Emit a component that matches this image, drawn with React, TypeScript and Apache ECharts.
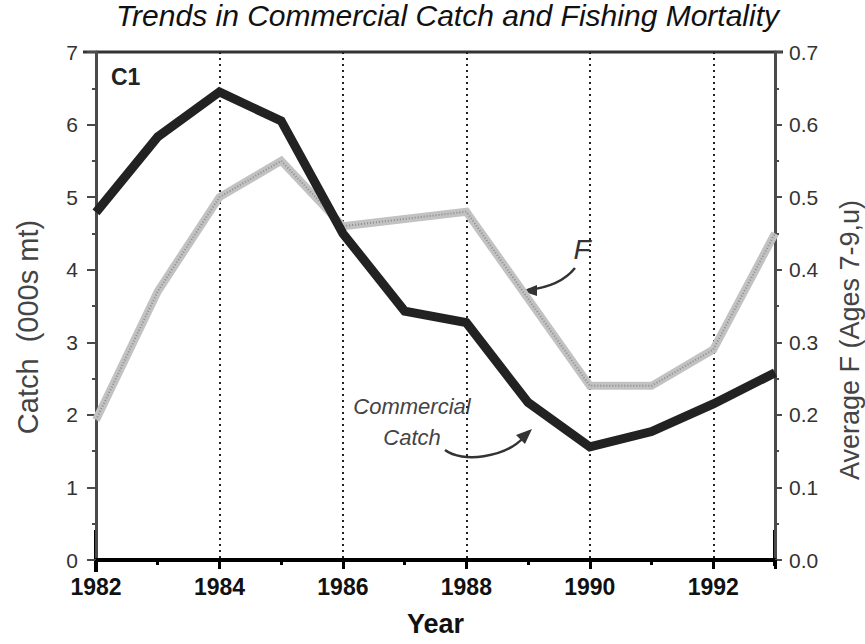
import React, { useEffect, useRef } from "react";
import * as echarts from "echarts";

const years = [1982, 1983, 1984, 1985, 1986, 1987, 1988, 1989, 1990, 1991, 1992, 1993];
const catchValues = [4.79, 5.83, 6.45, 6.05, 4.5, 3.43, 3.27, 2.17, 1.56, 1.77, 2.15, 2.58];
const fValues = [0.193, 0.37, 0.5, 0.55, 0.46, 0.47, 0.48, 0.36, 0.24, 0.24, 0.29, 0.45];

const FONT = "'Liberation Sans', Arial, Helvetica, sans-serif";

export default function App() {
  const ref = useRef<HTMLDivElement>(null);
  useEffect(() => {
    if (!ref.current) return;
    const chart = echarts.init(ref.current, null, { renderer: "svg" });
    chart.setOption({
      animation: false,
      backgroundColor: "#ffffff",
      textStyle: { fontFamily: FONT },
      grid: { left: 96, right: 90, top: 52, bottom: 84, containLabel: false },
      xAxis: {
        type: "value",
        min: 1982,
        max: 1993,
        interval: 2,
        name: "Year",
        nameLocation: "middle",
        nameGap: 50,
        nameTextStyle: { fontFamily: FONT, fontSize: 27, fontWeight: "bold", color: "#111" },
        axisLine: { show: true, lineStyle: { color: "#000", width: 4 } },
        axisTick: { show: true, length: 9, lineStyle: { color: "#000", width: 3 } },
        minorTick: { show: true, splitNumber: 2, length: 5, lineStyle: { color: "#000", width: 3 } },
        axisLabel: {
          fontFamily: FONT,
          fontSize: 23,
          fontWeight: "bold",
          color: "#111",
          margin: 15,
          showMaxLabel: false,
          formatter: (v: number) => String(v),
        },
        splitLine: { show: true, lineStyle: { color: "#222", width: 2, type: [2, 4] } },
      },
      yAxis: [
        {
          type: "value",
          min: 0,
          max: 7,
          interval: 1,
          position: "left",
          axisLine: { show: true, lineStyle: { color: "#4a4a4a", width: 3 } },
          axisTick: { show: true, length: 9, lineStyle: { color: "#4a4a4a", width: 2 } },
          minorTick: { show: true, splitNumber: 2, length: 4, lineStyle: { color: "#4a4a4a", width: 2 } },
          axisLabel: { fontFamily: FONT, fontSize: 21, color: "#333", margin: 18 },
          splitLine: { show: false },
        },
        {
          type: "value",
          min: 0,
          max: 0.7,
          interval: 0.1,
          position: "right",
          axisLine: { show: true, lineStyle: { color: "#4a4a4a", width: 3 } },
          axisTick: { show: true, length: 7, lineStyle: { color: "#4a4a4a", width: 2 } },
          minorTick: { show: true, splitNumber: 2, length: 4, lineStyle: { color: "#4a4a4a", width: 2 } },
          axisLabel: {
            fontFamily: FONT,
            fontSize: 21,
            color: "#333",
            margin: 14,
            formatter: (v: number) => v.toFixed(1),
          },
          splitLine: { show: false },
        },
      ],
      series: [
        {
          type: "line",
          name: "F",
          yAxisIndex: 1,
          data: years.map((y, i) => [y, fValues[i]]),
          showSymbol: false,
          lineStyle: { color: "#c2c2c2", width: 8, join: "miter" },
          z: 2,
        },
        {
          type: "line",
          name: "F-stipple",
          yAxisIndex: 1,
          data: years.map((y, i) => [y, fValues[i]]),
          showSymbol: false,
          lineStyle: { color: "#8c8c8c", width: 2, type: [1, 2] },
          z: 3,
        },
        {
          type: "line",
          name: "Commercial Catch",
          yAxisIndex: 0,
          data: years.map((y, i) => [y, catchValues[i]]),
          showSymbol: false,
          lineStyle: { color: "#222", width: 9, join: "miter" },
          z: 4,
        },
      ],
      graphic: [
        {
          type: "text",
          left: 116,
          top: 0,
          style: {
            text: "Trends in Commercial Catch and Fishing Mortality",
            fontFamily: FONT,
            fontSize: 30,
            fontStyle: "italic",
            fill: "#111",
          },
        },
        {
          type: "text",
          x: 28,
          y: 327,
          rotation: Math.PI / 2,
          style: {
            text: "Catch  (000s mt)",
            fontFamily: FONT,
            fontSize: 29,
            fill: "#444",
            align: "center",
            verticalAlign: "middle",
          },
        },
        {
          type: "text",
          x: 850,
          y: 340,
          rotation: Math.PI / 2,
          style: {
            text: "Average F (Ages 7-9,u)",
            fontFamily: FONT,
            fontSize: 27,
            fill: "#444",
            align: "center",
            verticalAlign: "middle",
          },
        },
        {
          type: "line",
          shape: { x1: 83, y1: 52, x2: 783, y2: 52 },
          style: { stroke: "#333", lineWidth: 3 },
        },
        {
          type: "line",
          shape: { x1: 96, y1: 530, x2: 96, y2: 572 },
          style: { stroke: "#000", lineWidth: 4 },
        },
        {
          type: "line",
          shape: { x1: 775, y1: 530, x2: 775, y2: 566 },
          style: { stroke: "#000", lineWidth: 4 },
        },
        {
          type: "text",
          left: 111,
          top: 65,
          style: { text: "C1", fontFamily: FONT, fontSize: 23, fontWeight: "bold", fill: "#222" },
        },
        {
          type: "text",
          x: 412,
          y: 406,
          style: {
            text: "Commercial",
            fontFamily: FONT,
            fontSize: 22,
            fontStyle: "italic",
            fill: "#444",
            align: "center",
            verticalAlign: "middle",
          },
        },
        {
          type: "text",
          x: 412,
          y: 437,
          style: {
            text: "Catch",
            fontFamily: FONT,
            fontSize: 22,
            fontStyle: "italic",
            fill: "#444",
            align: "center",
            verticalAlign: "middle",
          },
        },
        {
          type: "bezierCurve",
          shape: { x1: 445, y1: 450, x2: 524, y2: 437, cpx1: 462, cpy1: 463, cpx2: 505, cpy2: 458 },
          style: { stroke: "#333", lineWidth: 2.5, fill: null },
        },
        {
          type: "polygon",
          shape: { points: [[532, 429], [516, 435], [525, 444]] },
          style: { fill: "#333" },
        },
        {
          type: "text",
          x: 582,
          y: 249,
          style: {
            text: "F",
            fontFamily: FONT,
            fontSize: 28,
            fontStyle: "italic",
            fill: "#333",
            align: "center",
            verticalAlign: "middle",
          },
        },
        {
          type: "bezierCurve",
          shape: { x1: 575, y1: 268, x2: 528, y2: 290, cpx1: 563, cpy1: 283, cpx2: 546, cpy2: 288 },
          style: { stroke: "#333", lineWidth: 2.5, fill: null },
        },
        {
          type: "polygon",
          shape: { points: [[522, 291], [537, 285], [537, 296]] },
          style: { fill: "#333" },
        },
      ],
    });
    return () => chart.dispose();
  }, []);
  return (
    <div
      ref={ref}
      style={{ position: "fixed", left: 0, top: 0, width: 865, height: 644, background: "#fff" }}
    />
  );
}
